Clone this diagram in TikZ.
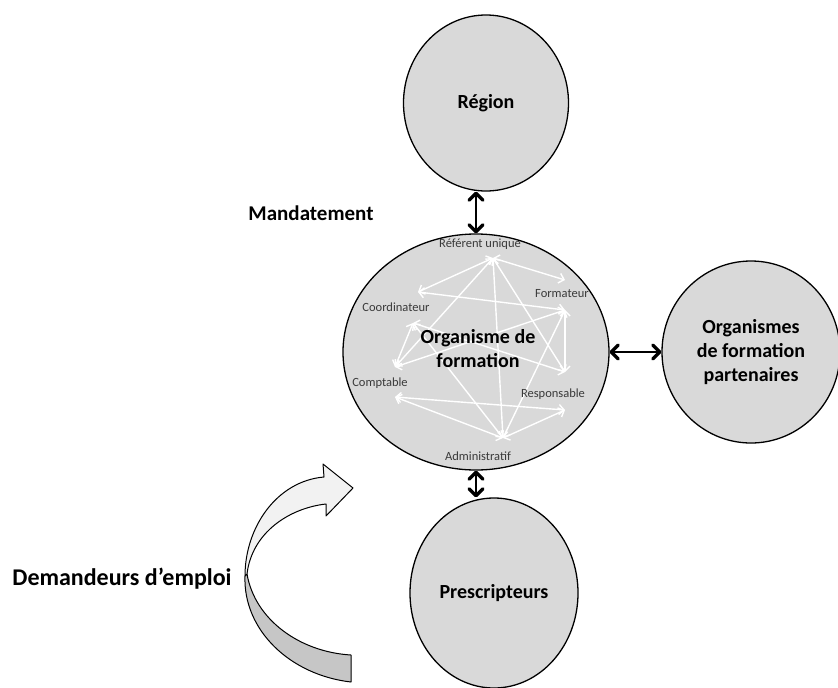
\documentclass[tikz,border=0pt]{standalone}
\usepackage{fontspec}
\setmainfont{Carlito}
\usetikzlibrary{arrows.meta,shapes.geometric}
\definecolor{bubblefill}{HTML}{D9D9D9}
\definecolor{lightband}{HTML}{F2F2F2}
\definecolor{darkband}{HTML}{C6C6C6}
\definecolor{lblgray}{HTML}{3A3A3A}
\begin{document}
\begin{tikzpicture}[x=1pt,y=-1pt,
  bubble/.style={ellipse,draw=black,line width=1.3pt,fill=bubblefill,inner sep=0pt,align=center,
    font=\bfseries\fontsize{20}{24}\selectfont},
  bigtxt/.style={font=\bfseries\fontsize{21}{25}\selectfont},
  lbl/.style={text=lblgray,font=\fontsize{12.5}{14}\selectfont,inner sep=0pt},
  link/.style={draw=black,line width=2.6pt,
    {Straight Barb[length=7pt,width=14pt,line width=3.2pt,round]}-{Straight Barb[length=7pt,width=14pt,line width=3.2pt,round]}},
  wlink/.style={draw=white,line width=1.4pt,
    {Straight Barb[length=5pt,width=10pt,line width=1.4pt]}-{Straight Barb[length=5pt,width=10pt,line width=1.4pt]}},
  band/.style={draw=black,line width=1pt,line join=round}
]
\useasboundingbox (0,0) rectangle (838,688);
\fill[white] (0,0) rectangle (838,688);

% bubbles
\node[bubble,minimum width=165pt,minimum height=176pt] (reg) at (486,103) {Région};
\node[bubble,minimum width=266pt,minimum height=236pt] (org) at (476,352) {};
\node[bubble,minimum width=178pt,minimum height=182pt] (part) at (751,352) {Organismes\\de formation\\partenaires};
\node[bubble,minimum width=168pt,minimum height=190pt] (pres) at (494,593) {Prescripteurs};

% outside labels
\node[bigtxt] (mand) at (311,213) {Mandatement};
\node[font=\bfseries\fontsize{24}{28}\selectfont] (dem) at (122,579) {Demandeurs d’emploi};

% black double arrows
\draw[link] (org.north |- reg.south) -- (org.north);
\draw[link] (org.east) -- (part.west);
\draw[link] (org.south) -- (org.south |- pres.north);

% internal network hubs
\coordinate (hR) at (493,258);
\coordinate (hF1) at (565,280);
\coordinate (hF2) at (565,310);
\coordinate (hC1) at (418,292);
\coordinate (hC2) at (413,323);
\coordinate (hP1) at (395,367);
\coordinate (hP2) at (395,397);
\coordinate (hS1) at (565,372);
\coordinate (hS2) at (565,410);
\coordinate (hA) at (503,438);

\draw[wlink] (hR) -- (hF1);
\draw[wlink] (hR) -- (hC1);
\draw[wlink] (hR) -- (hP1);
\draw[wlink] (hR) -- (hS1);
\draw[wlink] (hR) -- (hA);
\draw[wlink] (hF2) -- (hC1);
\draw[wlink] (hF2) -- (hP1);
\draw[wlink] (hF2) -- (hS1);
\draw[wlink] (hF2) -- (hA);
\draw[wlink] (hC2) -- (hP1);
\draw[wlink] (hC2) -- (hS1);
\draw[wlink] (hC2) -- (hA);
\draw[wlink] (hP2) -- (hS2);
\draw[wlink] (hP2) -- (hA);
\draw[wlink] (hS2) -- (hA);

% internal labels
\node[lbl] (lR) at (480,244) {Référent unique};
\node[lbl] (lF) at (562,294) {Formateur};
\node[lbl] (lC) at (396,307) {Coordinateur};
\node[lbl] (lP) at (380,383) {Comptable};
\node[lbl] (lS) at (553,394) {Responsable};
\node[lbl] (lA) at (478,456) {Administratif};
\node[font=\bfseries\fontsize{20}{24}\selectfont,align=center] (orgtxt) at (478,349) {Organisme de\\formation};

% curved arrow (Demandeurs d'emploi)
\path[band,fill=darkband] (245,576) .. controls (243,630) and (290,675) .. (351,682)
  -- (351,655) .. controls (300,652) and (255,620) .. (247,574) -- cycle;
\path[band,fill=lightband] (245,576) .. controls (245,527) and (277,481) .. (324,477)
  -- (323,464) -- (353,488) -- (326,516) -- (326,504)
  .. controls (290,508) and (252,532) .. (247,574) -- cycle;
\end{tikzpicture}
\end{document}
